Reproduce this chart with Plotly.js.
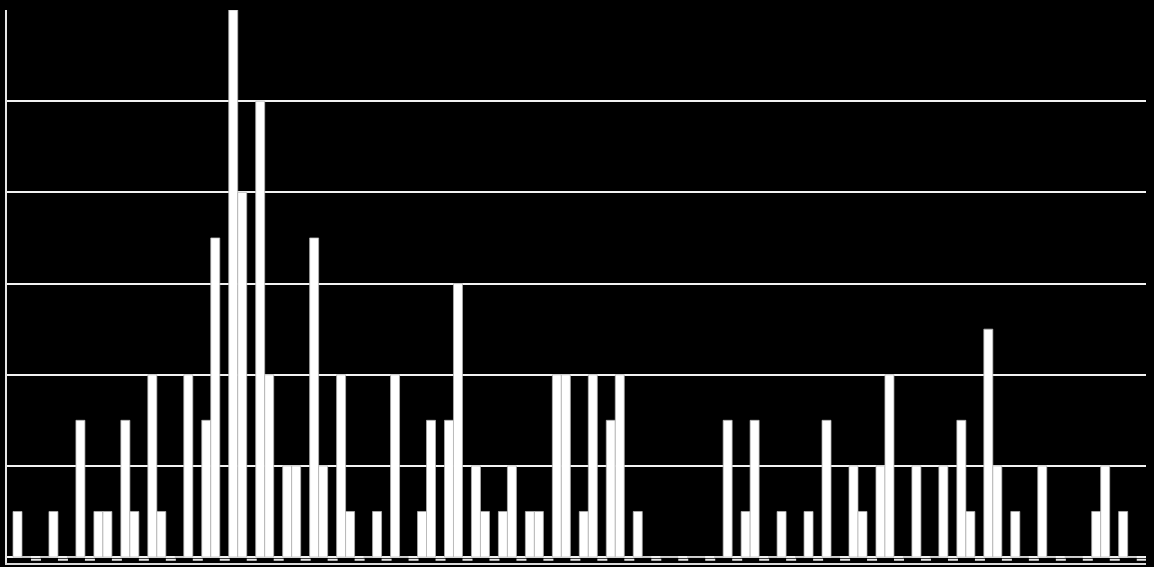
<!DOCTYPE html>
<html>
<head>
<meta charset="utf-8">
<script src="https://cdn.plot.ly/plotly-3.0.1.min.js"></script>
<style>
  html, body { margin: 0; padding: 0; background: #000; }
  #chart { width: 1154px; height: 567px; }
</style>
</head>
<body>
<div id="chart"></div>
<script>
// ── Data: 42 categories, two series (third slot of each category is the gap) ──
const categories = [0, 1, 2, 3, 4, 5, 6, 7, 8, 9, 10, 11, 12, 13, 14, 15, 16, 17, 18, 19, 20,
                    21, 22, 23, 24, 25, 26, 27, 28, 29, 30, 31, 32, 33, 34, 35, 36, 37, 38, 39, 40, 41];

const seriesA = [1, 0, 0, 1, 3, 4, 0, 3, 12, 10, 2, 7, 4, 0, 4, 1, 3, 2, 1, 1, 4,
                 1, 3, 1, 0, 0, 0, 1, 0, 0, 3, 2, 2, 0, 0, 3, 5, 1, 2, 0, 1, 1];

const seriesB = [0, 1, 3, 1, 1, 1, 4, 7, 8, 4, 2, 2, 1, 1, 0, 3, 6, 1, 2, 1, 4,
                 4, 4, 0, 0, 0, 3, 3, 1, 1, 0, 1, 4, 2, 2, 1, 2, 0, 0, 0, 2, 0];

// ── Traces ───────────────────────────────────────────────────────────────────
function barTrace(name, ys) {
  return {
    type: 'bar',
    name: name,
    x: categories,
    y: ys,
    marker: { color: '#ffffff', line: { color: '#b3b3b3', width: 0.75 } },
    hoverinfo: 'skip',
  };
}

const traces = [barTrace('A', seriesA), barTrace('B', seriesB)];

// ── Layout ───────────────────────────────────────────────────────────────────
const layout = {
  width: 1154,
  height: 567,
  paper_bgcolor: '#000000',
  plot_bgcolor: '#000000',
  margin: { l: 7, r: 8, t: 10, b: 4 },
  showlegend: false,
  barmode: 'group',
  bargap: 1 / 3,
  bargroupgap: 0,
  xaxis: {
    range: [-0.556, 41.68],
    showgrid: false,
    zeroline: false,
    showticklabels: false,
    ticks: '',
    showline: true,
    linecolor: '#d9d9d9',
    linewidth: 2,
  },
  yaxis: {
    range: [-0.13, 12],
    tick0: 0,
    dtick: 2,
    showgrid: true,
    gridcolor: '#f2f2f2',
    gridwidth: 2,
    zeroline: true,
    zerolinecolor: '#f2f2f2',
    zerolinewidth: 2,
    showticklabels: false,
    ticks: '',
    showline: true,
    linecolor: '#e6e6e6',
    linewidth: 2,
  },
  // floor marks under the empty third slot of each category
  shapes: [{
    type: 'line',
    xref: 'x', yref: 'y',
    x0: 1 / 3, x1: 41.68,
    y0: -0.06, y1: -0.06,
    line: { color: '#e6e6e6', width: 2, dash: '10px,16.97px' },
  }],
};

Plotly.newPlot('chart', traces, layout, { displayModeBar: false, staticPlot: true });
</script>
</body>
</html>
